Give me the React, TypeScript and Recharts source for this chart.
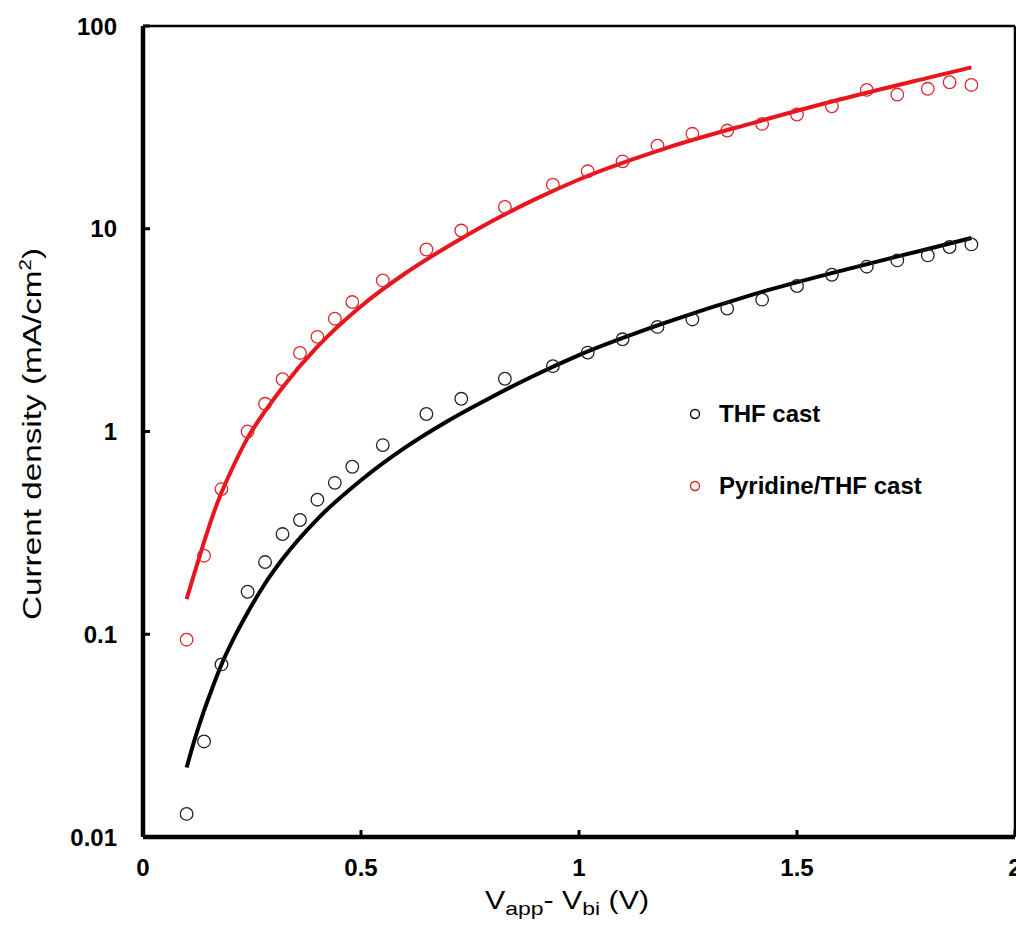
import React from "react";
import {
  ComposedChart,
  Line,
  Scatter,
  XAxis,
  YAxis,
  ReferenceLine,
  Legend,
} from "recharts";

// Measured data points (V_app - V_bi in V, current density in mA/cm2)
const dataVoltages = [
  0.1, 0.14, 0.18, 0.24, 0.28, 0.32, 0.36, 0.4, 0.44, 0.48, 0.55, 0.65, 0.73,
  0.83, 0.94, 1.02, 1.1, 1.18, 1.26, 1.34, 1.42, 1.5, 1.58, 1.66, 1.73, 1.8,
  1.85, 1.9,
];
const thfCurrent = [
  0.013, 0.0296, 0.071, 0.162, 0.227, 0.312, 0.366, 0.461, 0.558, 0.67, 0.857,
  1.22, 1.45, 1.82, 2.1, 2.45, 2.85, 3.28, 3.57, 4.04, 4.47, 5.22, 5.93, 6.5,
  6.98, 7.39, 8.13, 8.37,
];
const pyridineCurrent = [
  0.094, 0.244, 0.52, 1.0, 1.37, 1.81, 2.44, 2.93, 3.6, 4.35, 5.56, 7.9, 9.8,
  12.8, 16.5, 19.2, 21.5, 25.7, 29.4, 30.5, 32.9, 36.6, 40.2, 48.4, 45.9, 49,
  52.8, 51.2,
];

// Fitted curves
const fitVoltages = [
  0.1, 0.12, 0.14, 0.16, 0.18, 0.2, 0.24, 0.28, 0.32, 0.4, 0.5, 0.6, 0.7, 0.8,
  0.9, 1.0, 1.2, 1.4, 1.6, 1.8, 1.9,
];
const thfFitCurrent = [
  0.022, 0.031, 0.042, 0.055, 0.071, 0.088, 0.128, 0.178, 0.235, 0.37, 0.575,
  0.83, 1.13, 1.48, 1.9, 2.38, 3.45, 4.75, 6.2, 7.95, 9.0,
];
const pyrFitCurrent = [
  0.149, 0.207, 0.285, 0.385, 0.5, 0.625, 0.93, 1.26, 1.65, 2.62, 4.15, 6.0,
  8.2, 10.9, 14.0, 17.5, 25, 33.3, 43.5, 55.5, 62.5,
];

const xTicks = [0, 0.5, 1, 1.5, 2];
const yTicks = [0.01, 0.1, 1, 10, 100];
const yTickLabels = ["0.01", "0.1", "1", "10", "100"];
const seriesNames = ["THF cast", "Pyridine/THF cast"];

const zip = (xs: number[], ys: number[]) => xs.map((x, i) => ({ x, y: ys[i] }));
const thfPoints = zip(dataVoltages, thfCurrent);
const pyrPoints = zip(dataVoltages, pyridineCurrent);
const thfFit = zip(fitVoltages, thfFitCurrent);
const pyrFit = zip(fitVoltages, pyrFitCurrent);

const RED = "#e8161c";
const BLACK = "#000000";
const FONT = "'Liberation Sans', Arial, sans-serif";

const circleShape = (color: string) => (props: any) => {
  const { cx, cy } = props;
  if (cx == null || cy == null) return <g />;
  return <circle cx={cx} cy={cy} r={6.3} fill="none" stroke={color} strokeWidth={1.3} />;
};

const YTitle = () => (
  <text
    transform="translate(33, 426) rotate(-90)"
    textAnchor="middle"
    fontFamily={FONT}
    fontSize={26}
    fill="#000"
    textLength={372}
    lengthAdjust="spacingAndGlyphs"
  >
    Current density (mA/cm
    <tspan fontSize={16} dy={-10}>2</tspan>
    <tspan dy={10}>)</tspan>
  </text>
);

const XTitle = () => (
  <text
    x={477}
    y={901}
    fontFamily={FONT}
    fontSize={25}
    fill="#000"
    textLength={164}
    lengthAdjust="spacingAndGlyphs"
  >
    V<tspan fontSize={19} dy={6}>app</tspan>
    <tspan dy={-6}>- V</tspan>
    <tspan fontSize={19} dy={6}>bi</tspan>
    <tspan dy={-6}> (V)</tspan>
  </text>
);

const LegendContent = () => (
  <div style={{ fontFamily: FONT, fontWeight: "bold", fontSize: 24, color: "#000" }}>
    {[BLACK, RED].map((c, i) => (
      <div
        key={i}
        style={{
          display: "flex",
          alignItems: "center",
          height: 24,
          lineHeight: "24px",
          marginTop: i === 0 ? 0 : 48,
          whiteSpace: "nowrap",
        }}
      >
        <svg width={12} height={12} style={{ marginRight: 18 }}>
          <circle cx={6} cy={6} r={4.5} fill="none" stroke={c} strokeWidth={1.3} />
        </svg>
        <span>{seriesNames[i]}</span>
      </div>
    ))}
  </div>
);

export default function App() {
  return (
    <div style={{ width: 1016, height: 918, background: "#fff" }}>
      <ComposedChart
        width={1016}
        height={918}
        margin={{ top: 18, right: 9, bottom: 9, left: 65 }}
      >
        <XAxis
          type="number"
          dataKey="x"
          domain={[0, 2]}
          ticks={xTicks}
          allowDataOverflow
          height={80}
          axisLine={{ stroke: "#000", strokeWidth: 4.5 }}
          tickLine={{ stroke: "#000", strokeWidth: 3 }}
          tickSize={-7}
          tickMargin={29}
          tick={{ fill: "#000", fontFamily: FONT, fontWeight: "bold", fontSize: 24 }}
          tickFormatter={(v: number) => String(v)}
          label={{ content: () => <XTitle /> }}
        />
        <YAxis
          type="number"
          dataKey="y"
          scale="log"
          domain={[0.01, 100]}
          ticks={yTicks}
          allowDataOverflow
          width={70}
          axisLine={{ stroke: "#000", strokeWidth: 4.5 }}
          tickLine={{ stroke: "#000", strokeWidth: 3 }}
          tickSize={-7}
          tickMargin={33}
          tick={{ fill: "#000", fontFamily: FONT, fontWeight: "bold", fontSize: 24 }}
          tickFormatter={(v: number) => yTickLabels[yTicks.indexOf(v)] ?? String(v)}
          label={{ content: () => <YTitle /> }}
        />
        <ReferenceLine y={100} stroke="#000" strokeWidth={2.5} ifOverflow="visible" />
        <ReferenceLine x={2} stroke="#000" strokeWidth={2.5} ifOverflow="visible" />
        <Line
          data={pyrFit}
          dataKey="y"
          type="monotone"
          stroke={RED}
          strokeWidth={4}
          dot={false}
          activeDot={false}
          isAnimationActive={false}
          legendType="none"
        />
        <Line
          data={thfFit}
          dataKey="y"
          type="monotone"
          stroke={BLACK}
          strokeWidth={4}
          dot={false}
          activeDot={false}
          isAnimationActive={false}
          legendType="none"
        />
        <Scatter
          data={thfPoints}
          dataKey="y"
          name={seriesNames[0]}
          shape={circleShape("#222")}
          isAnimationActive={false}
        />
        <Scatter
          data={pyrPoints}
          dataKey="y"
          name={seriesNames[1]}
          shape={circleShape("#e0262b")}
          isAnimationActive={false}
        />
        <Legend
          layout="vertical"
          align="center"
          verticalAlign="middle"
          wrapperStyle={{ position: "absolute", left: 681, top: 394, width: 320 }}
          content={() => <LegendContent />}
        />
      </ComposedChart>
    </div>
  );
}
